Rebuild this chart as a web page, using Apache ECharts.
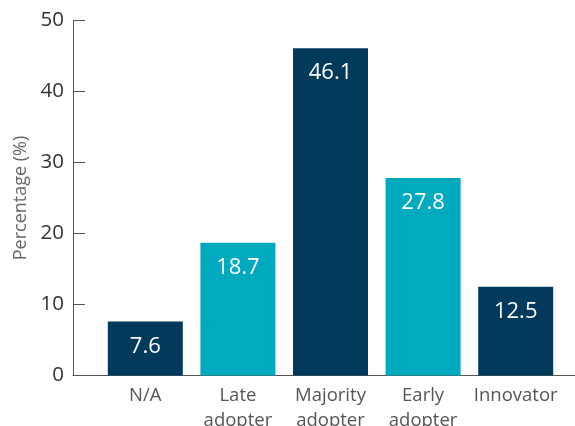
<!DOCTYPE html>
<html><head><meta charset="utf-8">
<script src="https://cdn.jsdelivr.net/npm/echarts@6/dist/echarts.min.js"></script>
<style>html,body{margin:0;padding:0;background:#fff}#c{width:575px;height:426px}</style>
</head><body><div id="c"></div>
<script>
const categories = ['N/A', 'Late\nadopter', 'Majority\nadopter', 'Early\nadopter', 'Innovator'];
const values = [7.6, 18.7, 46.1, 27.8, 12.5];
const barColors = ['#023a5c', '#00aabe', '#023a5c', '#00aabe', '#023a5c'];
const yTicks = {min: 0, max: 50, interval: 10};

const chart = echarts.init(document.getElementById('c'), null, {renderer: 'canvas'});
const font = '"Open Sans", "Noto Sans", sans-serif';
chart.setOption({
  animation: false,
  textStyle: {fontFamily: font},
  grid: [
    {left: 99, right: 13, top: 20.5, height: 355, containLabel: false, outerBoundsMode: 'none'},
    {left: 73, right: 0, top: 20.5, height: 355, containLabel: false, outerBoundsMode: 'none'}
  ],
  xAxis: [
    {type: 'category', gridIndex: 0, data: categories,
     axisLine: {show: false}, axisTick: {show: false},
     axisLabel: {interval: 0, color: '#555', fontSize: 18.5, lineHeight: 25, margin: 8, fontFamily: font}},
    {type: 'value', gridIndex: 1, min: 0, max: 1,
     axisLine: {show: true, lineStyle: {color: '#555', width: 1}},
     axisTick: {show: false}, axisLabel: {show: false}, splitLine: {show: false}}
  ],
  yAxis: [
    {type: 'value', gridIndex: 0, min: yTicks.min, max: yTicks.max, interval: yTicks.interval,
     offset: 26,
     name: 'Percentage (%)', nameLocation: 'middle', nameGap: 39,
     nameTextStyle: {color: '#666', fontSize: 18, fontFamily: font},
     axisLine: {show: true, lineStyle: {color: '#555', width: 1}},
     axisTick: {show: true, inside: true, length: 12, lineStyle: {color: '#555'}},
     axisLabel: {color: '#333', fontSize: 20.5, margin: 9, fontFamily: font},
     splitLine: {show: false}},
    {type: 'value', gridIndex: 1, min: 0, max: 1, show: false}
  ],
  series: [{
    type: 'bar', xAxisIndex: 0, yAxisIndex: 0,
    barWidth: 75,
    data: values.map((v, i) => ({value: v, itemStyle: {color: barColors[i]}})),
    label: {show: true, position: 'insideTop', distance: 14, color: '#fff', fontSize: 22, fontFamily: font}
  }]
});
</script></body></html>
